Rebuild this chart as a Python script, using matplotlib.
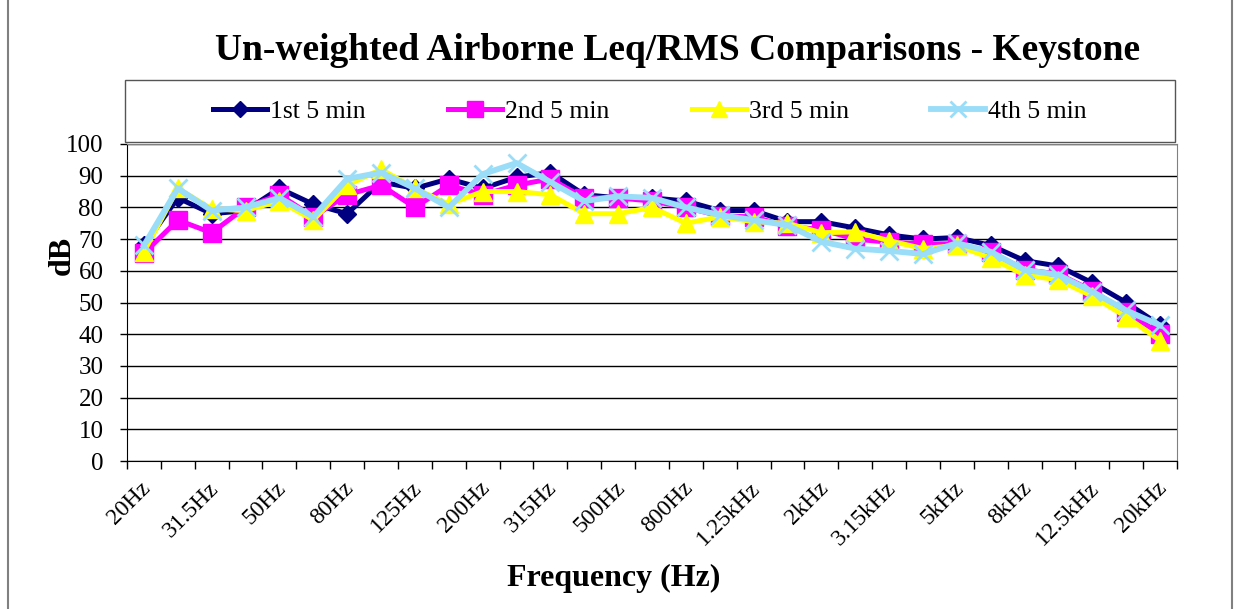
import numpy as np
import matplotlib
matplotlib.use("Agg")
from matplotlib import pyplot as plt
from matplotlib.patches import Rectangle
from matplotlib.lines import Line2D
from matplotlib.transforms import ScaledTranslation

plt.rcParams['font.family'] = ['Liberation Serif', 'DejaVu Serif']

bands = ['20Hz', '25Hz', '31.5Hz', '40Hz', '50Hz', '63Hz', '80Hz', '100Hz', '125Hz',
         '160Hz', '200Hz', '250Hz', '315Hz', '400Hz', '500Hz', '630Hz', '800Hz', '1kHz',
         '1.25kHz', '1.6kHz', '2kHz', '2.5kHz', '3.15kHz', '4kHz', '5kHz', '6.3kHz',
         '8kHz', '10kHz', '12.5kHz', '16kHz', '20kHz']

first_5 = [68, 83, 78, 79, 86, 81, 78, 88, 86, 89, 86, 89.5, 91, 84, 83, 83, 82, 79, 79,
           75.5, 75.5, 73.5, 71.3, 70, 70.5, 68, 63.2, 61.5, 56.2, 50, 42.8]
second_5 = [65.5, 76, 72, 80, 84, 77, 84, 87, 80, 87, 84, 87, 89, 83, 83, 82, 80, 77.3, 77,
            74, 73, 70, 69, 68.5, 68.5, 66, 60.3, 59, 53.7, 47, 40.2]
third_5 = [66, 86, 79.5, 79, 82, 76, 87, 92, 86, 81, 85, 85, 84, 78, 78, 80, 75, 77, 75.5,
           75, 72, 72.3, 69.5, 67, 68, 64, 58.7, 57.1, 52, 45.5, 38]
fourth_5 = [68, 86, 79, 80, 83, 77, 89, 91, 86, 80, 90.5, 94, 88, 82, 83.5, 83, 80, 77.6, 76,
            74.4, 69.2, 67, 66.3, 65.3, 68.7, 66, 60.3, 58.7, 53.4, 47.5, 42.8]

series_names = ['1st 5 min', '2nd 5 min', '3rd 5 min', '4th 5 min']

W, H = 1241, 609
fig = plt.figure(figsize=(W / 100, H / 100), dpi=100)
ax = fig.add_axes([127 / W, 1 - 461 / H, (1177 - 127) / W, (461 - 144) / H])

x = np.arange(len(bands))
ax.plot(x, first_5, color='#000080', lw=3.6, marker='D', ms=9, mec='#000080',
        label=series_names[0], zorder=3)
ax.plot(x, second_5, color='#FF00FF', lw=3.6, marker='s', ms=13, mec='#FF00FF',
        label=series_names[1], zorder=4)
ax.plot(x, third_5, color='#FFFF00', lw=3.6, marker='^', ms=13, mec='#FFFF00',
        label=series_names[2], zorder=5)
ax.plot(x, fourth_5, color='#99DDF8', lw=4.2, marker='x', ms=13, mew=2, mec='#99DDF8',
        label=series_names[3], zorder=6)

ax.set_xlim(-0.5, len(bands) - 0.5)
ax.set_ylim(0, 100)
ax.set_yticks(np.arange(0, 101, 10))
ax.yaxis.grid(True, color='black', lw=1)
ax.set_axisbelow(True)
ax.tick_params(axis='y', labelsize=18, length=5, width=1, direction='out', pad=12)

ax.set_xticks(np.arange(-0.5, len(bands), 1))
ax.set_xticklabels([])
ax.tick_params(axis='x', which='major', length=6, width=1, direction='out')
ax.set_xticks(x[::2], minor=True)
ax.set_xticklabels(bands[::2], minor=True, rotation=45, ha='right',
                   rotation_mode='anchor', fontsize=17)
ax.tick_params(axis='x', which='minor', length=0, pad=12)
shift = ScaledTranslation(-4 / 100, 0, fig.dpi_scale_trans)
for lab in ax.get_xticklabels(minor=True):
    lab.set_transform(lab.get_transform() + shift)

for s in ['top', 'right']:
    ax.spines[s].set_color('#808080')
ax.spines['left'].set_color('black')
ax.spines['bottom'].set_color('black')

fig.text(62 / W, 1 - 255 / H, 'dB', rotation=90, ha='center', va='center',
         fontsize=23, fontweight='bold')
fig.text(614 / W, 1 - 578 / H, 'Frequency (Hz)', ha='center', va='center',
         fontsize=23, fontweight='bold')
fig.text(678 / W, 1 - 50 / H, 'Un-weighted Airborne Leq/RMS Comparisons - Keystone',
         ha='center', va='center', fontsize=27, fontweight='bold')

# legend box above plot area
fig.patches.append(Rectangle((125 / W, 1 - 142 / H), (1175 - 125) / W, 62 / H,
                             transform=fig.transFigure, fill=False,
                             edgecolor='#555555', lw=1))
fig.legend(loc='center', bbox_to_anchor=(650 / W, 1 - 112 / H), ncol=4,
           frameon=False, fontsize=18.5, handlelength=2.1, columnspacing=3.2,
           handletextpad=0.12, markerscale=0.9)

# outer chart border (left and right edges)
for xe in (8, 1232):
    fig.add_artist(Line2D([xe / W, xe / W], [0, 1], transform=fig.transFigure,
                          color='#808080', lw=1.5))

fig.savefig('out.png', dpi=100)
